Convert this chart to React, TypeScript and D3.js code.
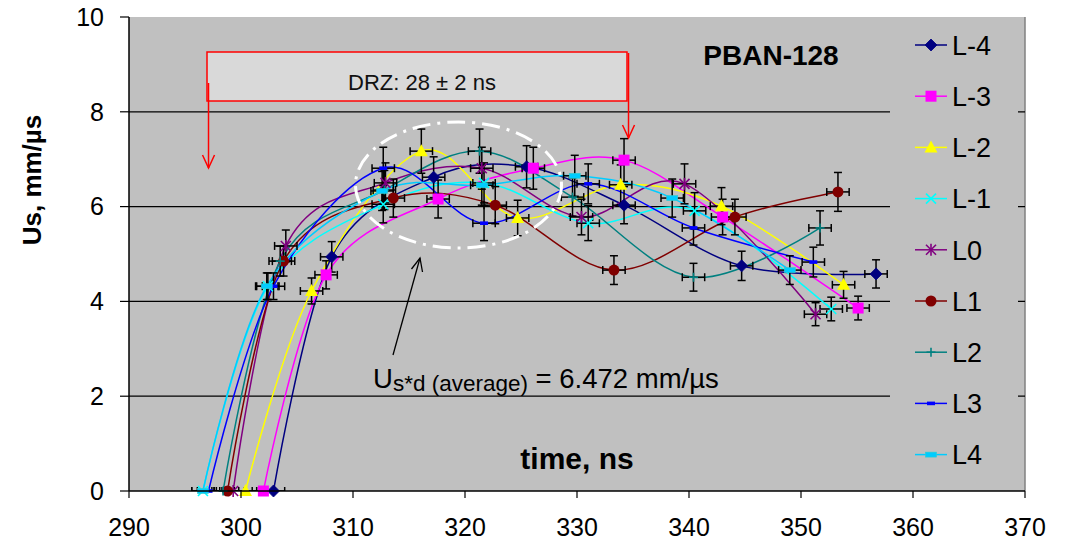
import React from "react";
import * as d3 from "d3";

// ---------- data ----------
const SERIES_NAMES = ["L-4", "L-3", "L-2", "L-1", "L0", "L1", "L2", "L3", "L4"];

const T_Lm4 = [302.9, 308.1, 317.2, 325.5, 334.2, 344.7, 356.7];
const V_Lm4 = [0, 4.94, 6.62, 6.84, 6.03, 4.75, 4.58];
const T_Lm3 = [302.0, 307.6, 317.6, 326.1, 334.2, 343.0, 355.1];
const V_Lm3 = [0, 4.56, 6.16, 6.81, 6.98, 5.78, 3.86];
const T_Lm2 = [300.4, 306.3, 316.1, 324.7, 333.9, 342.9, 353.8];
const V_Lm2 = [0, 4.22, 7.17, 5.76, 6.46, 6.01, 4.35];
const T_Lm1 = [296.6, 302.4, 312.7, 321.7, 331.0, 340.5, 352.7];
const V_Lm1 = [0, 4.32, 6.05, 6.5, 5.65, 5.91, 3.84];
const T_L0 = [299.3, 304.0, 312.9, 321.5, 330.4, 339.6, 351.3];
const V_L0 = [0, 5.17, 6.5, 6.81, 5.78, 6.48, 3.73];
const T_L1 = [298.8, 303.8, 313.6, 322.7, 333.3, 344.1, 353.3];
const V_L1 = [0, 4.85, 6.18, 6.03, 4.66, 5.78, 6.31];
const T_L2 = [298.4, 303.5, 312.8, 321.3, 329.6, 340.4, 351.7];
const V_L2 = [0, 4.85, 6.35, 7.17, 6.2, 4.51, 5.55];
const T_L3 = [297.1, 302.9, 312.7, 321.7, 331.0, 340.4, 351.1];
const V_L3 = [0, 4.32, 6.81, 5.65, 6.48, 5.55, 4.83];
const T_L4 = [296.6, 302.3, 312.6, 321.5, 329.8, 338.5, 349.0];
const V_L4 = [0, 4.32, 6.33, 6.45, 6.65, 6.18, 4.66];

const SERIES_T = [T_Lm4, T_Lm3, T_Lm2, T_Lm1, T_L0, T_L1, T_L2, T_L3, T_L4];
const SERIES_V = [V_Lm4, V_Lm3, V_Lm2, V_Lm1, V_L0, V_L1, V_L2, V_L3, V_L4];

const T_ERR = 1.0; // ns
const V_ERR_REL = 0.065; // relative error on Us

const X_TICKS = [290, 300, 310, 320, 330, 340, 350, 360, 370];
const Y_TICKS = [0, 2, 4, 6, 8, 10];
const Y_GRID = [2, 4, 6, 8];

const CHART_TITLE = "PBAN-128";
const X_TITLE = "time, ns";
const Y_TITLE = "Us, mm/µs";
const DRZ_TEXT = "DRZ: 28 ± 2 ns";
const DRZ_START = 297.1;
const DRZ_END = 334.6;
const AVG_VALUE = "6.472";

// ---------- styles ----------
const COLORS = ["#000080", "#FF00FF", "#FFFF00", "#00FFFF", "#800080", "#800000", "#008080", "#0000FF", "#00CCFF"];
const MARKERS = ["diamond", "square", "triangle", "x", "asterisk", "circle", "plus", "dash", "rect"];

const W = 1072;
const H = 545;
const PLOT = { left: 129, right: 1025, top: 17, bottom: 491 };
const FONT = "'Liberation Sans', Arial, sans-serif";

const x = d3.scaleLinear().domain([290, 370]).range([PLOT.left, PLOT.right]);
const y = d3.scaleLinear().domain([0, 10]).range([PLOT.bottom, PLOT.top]);

function Marker({ type, cx, cy, color }: { type: string; cx: number; cy: number; color: string }) {
  switch (type) {
    case "diamond":
      return <path d={`M${cx},${cy - 6}L${cx + 6},${cy}L${cx},${cy + 6}L${cx - 6},${cy}Z`} fill={color} stroke={color} strokeWidth={0.8} />;
    case "square":
      return <rect x={cx - 5.5} y={cy - 5.5} width={11} height={11} fill={color} />;
    case "triangle":
      return <path d={`M${cx},${cy - 7}L${cx + 6.5},${cy + 5}L${cx - 6.5},${cy + 5}Z`} fill={color} />;
    case "x":
      return (
        <g stroke={color} strokeWidth={1.6}>
          <line x1={cx - 5} y1={cy - 5} x2={cx + 5} y2={cy + 5} />
          <line x1={cx - 5} y1={cy + 5} x2={cx + 5} y2={cy - 5} />
        </g>
      );
    case "asterisk":
      return (
        <g stroke={color} strokeWidth={1.6}>
          <line x1={cx - 5} y1={cy - 5} x2={cx + 5} y2={cy + 5} />
          <line x1={cx - 5} y1={cy + 5} x2={cx + 5} y2={cy - 5} />
          <line x1={cx} y1={cy - 6} x2={cx} y2={cy + 6} />
        </g>
      );
    case "circle":
      return <circle cx={cx} cy={cy} r={5.5} fill={color} />;
    case "plus":
      return (
        <g stroke={color} strokeWidth={1.6}>
          <line x1={cx} y1={cy - 4.5} x2={cx} y2={cy + 4.5} />
          <line x1={cx - 4.5} y1={cy} x2={cx + 4.5} y2={cy} />
        </g>
      );
    case "dash":
      return <rect x={cx - 4} y={cy - 1.8} width={8} height={3.6} fill={color} />;
    case "rect":
      return <rect x={cx - 5.5} y={cy - 2.5} width={11} height={5} fill={color} stroke="#33CCCC" strokeWidth={0.6} />;
    default:
      return null;
  }
}

export default function App() {
  const line = d3
    .line<[number, number]>()
    .x((d) => x(d[0]))
    .y((d) => y(d[1]))
    .curve(d3.curveCardinal.tension(0));

  const series = SERIES_NAMES.map((name, i) => ({
    name,
    color: COLORS[i],
    marker: MARKERS[i],
    pts: SERIES_T[i].map((t, j) => [t, SERIES_V[i][j]] as [number, number]),
  }));

  const legendX = 915;
  const legendY0 = 45;
  const legendDy = 51.2;

  const ellipse = { cx: 458.5, cy: 185, rx: 103, ry: 63 };

  return (
    <svg width={W} height={H} style={{ position: "absolute", left: 0, top: 0, background: "#fff" }} fontFamily={FONT}>
      <defs>
        <clipPath id="plotclip">
          <rect x={PLOT.left} y={PLOT.top} width={PLOT.right - PLOT.left} height={PLOT.bottom - PLOT.top} />
        </clipPath>
      </defs>
      {/* plot area */}
      <rect x={PLOT.left} y={PLOT.top} width={PLOT.right - PLOT.left} height={PLOT.bottom - PLOT.top} fill="#C0C0C0" />
      <line x1={PLOT.right} y1={PLOT.top} x2={PLOT.right} y2={PLOT.bottom} stroke="#808080" strokeWidth={1.5} />
      {/* gridlines */}
      {Y_GRID.map((v) => (
        <line key={v} x1={PLOT.left} x2={PLOT.right} y1={y(v)} y2={y(v)} stroke="#000" strokeWidth={1.2} />
      ))}

      {/* series lines */}
      <g clipPath="url(#plotclip)">
        {series.map((s) => (
          <path key={s.name} d={line(s.pts) || ""} fill="none" stroke={s.color} strokeWidth={1.5} />
        ))}
      </g>

      {/* error bars */}
      <g stroke="#000" strokeWidth={1.5} clipPath="url(#plotclip)">
        {series.map((s) =>
          s.pts.map(([t, v], j) => {
            const e = v * V_ERR_REL;
            const cx = x(t);
            const cy = y(v);
            return (
              <g key={s.name + j}>
                <line x1={x(t - T_ERR)} x2={x(t + T_ERR)} y1={cy} y2={cy} />
                <line x1={x(t - T_ERR)} x2={x(t - T_ERR)} y1={cy - 4} y2={cy + 4} />
                <line x1={x(t + T_ERR)} x2={x(t + T_ERR)} y1={cy - 4} y2={cy + 4} />
                {e > 0 && (
                  <>
                    <line x1={cx} x2={cx} y1={y(v - e)} y2={y(v + e)} />
                    <line x1={cx - 4} x2={cx + 4} y1={y(v - e)} y2={y(v - e)} />
                    <line x1={cx - 4} x2={cx + 4} y1={y(v + e)} y2={y(v + e)} />
                  </>
                )}
              </g>
            );
          })
        )}
      </g>

      {/* markers */}
      {series.map((s) =>
        s.pts.map(([t, v], j) => <Marker key={s.name + "m" + j} type={s.marker} cx={x(t)} cy={y(v)} color={s.color} />)
      )}

      {/* axes */}
      <line x1={PLOT.left} x2={PLOT.left} y1={PLOT.top} y2={PLOT.bottom} stroke="#000" strokeWidth={1.5} />
      <line x1={PLOT.left} x2={PLOT.right} y1={PLOT.bottom} y2={PLOT.bottom} stroke="#000" strokeWidth={1.5} />
      {Y_TICKS.map((v) => (
        <g key={"yt" + v}>
          <line x1={PLOT.left - 9} x2={PLOT.left} y1={y(v)} y2={y(v)} stroke="#000" strokeWidth={1.2} />
          <text x={104} y={y(v)} dy="0.35em" textAnchor="end" fontSize={25} fill="#000">
            {v}
          </text>
        </g>
      ))}
      {X_TICKS.map((t) => (
        <g key={"xt" + t}>
          <line x1={x(t)} x2={x(t)} y1={PLOT.bottom} y2={PLOT.bottom + 7} stroke="#000" strokeWidth={1.2} />
          <text x={x(t)} y={536} textAnchor="middle" fontSize={25} fill="#000">
            {t}
          </text>
        </g>
      ))}

      {/* axis titles */}
      <text x={577} y={469} textAnchor="middle" fontSize={30} fontWeight="bold">
        {X_TITLE}
      </text>
      <text transform={`translate(41,${180}) rotate(-90)`} textAnchor="middle" fontSize={26} fontWeight="bold">
        {Y_TITLE}
      </text>
      <text x={771} y={65} textAnchor="middle" fontSize={28} fontWeight="bold">
        {CHART_TITLE}
      </text>

      {/* legend */}
      <rect x={890} y={20} width={128} height={460} fill="#C0C0C0" />
      {series.map((s, i) => {
        const ly = legendY0 + i * legendDy;
        return (
          <g key={"lg" + s.name}>
            <line x1={legendX} x2={legendX + 32} y1={ly} y2={ly} stroke={s.color} strokeWidth={1.5} />
            <Marker type={s.marker} cx={legendX + 16} cy={ly} color={s.color} />
            <text x={952} y={ly} dy="0.36em" fontSize={27} fill="#000">
              {s.name}
            </text>
          </g>
        );
      })}

      {/* DRZ annotation */}
      <rect x={207} y={52} width={420} height={49} fill="#D9D9D9" stroke="#FF0000" strokeWidth={1.5} />
      <text x={422} y={90} textAnchor="middle" fontSize={22} fill="#111">
        {DRZ_TEXT}
      </text>
      <g stroke="#FF0000" strokeWidth={1.5} fill="none">
        <line x1={x(DRZ_START)} x2={x(DRZ_START)} y1={83} y2={168} />
        <path d={`M${x(DRZ_START) - 6},${155}L${x(DRZ_START)},${168}L${x(DRZ_START) + 6},${155}`} />
        <line x1={x(DRZ_END)} x2={x(DRZ_END)} y1={53} y2={138} />
        <path d={`M${x(DRZ_END) - 6},${125}L${x(DRZ_END)},${138}L${x(DRZ_END) + 6},${125}`} />
      </g>

      {/* ellipse */}
      <ellipse cx={ellipse.cx} cy={ellipse.cy} rx={ellipse.rx} ry={ellipse.ry} fill="none" stroke="#fff" strokeWidth={3} strokeDasharray="18,7,3,7" />

      {/* average annotation */}
      <g stroke="#000" strokeWidth={1.3} fill="none">
        <line x1={393} y1={355} x2={420} y2={258} />
        <path d={`M${411.5},${269}L${420},${258}L${422.5},${272}`} />
      </g>
      <text x={373} y={388} fontSize={27.5} fill="#000">
        U
        <tspan fontSize={22.5} dy={3}>s*d (average)</tspan>
        <tspan dy={-3}>{` = ${AVG_VALUE} mm/µs`}</tspan>
      </text>
    </svg>
  );
}
